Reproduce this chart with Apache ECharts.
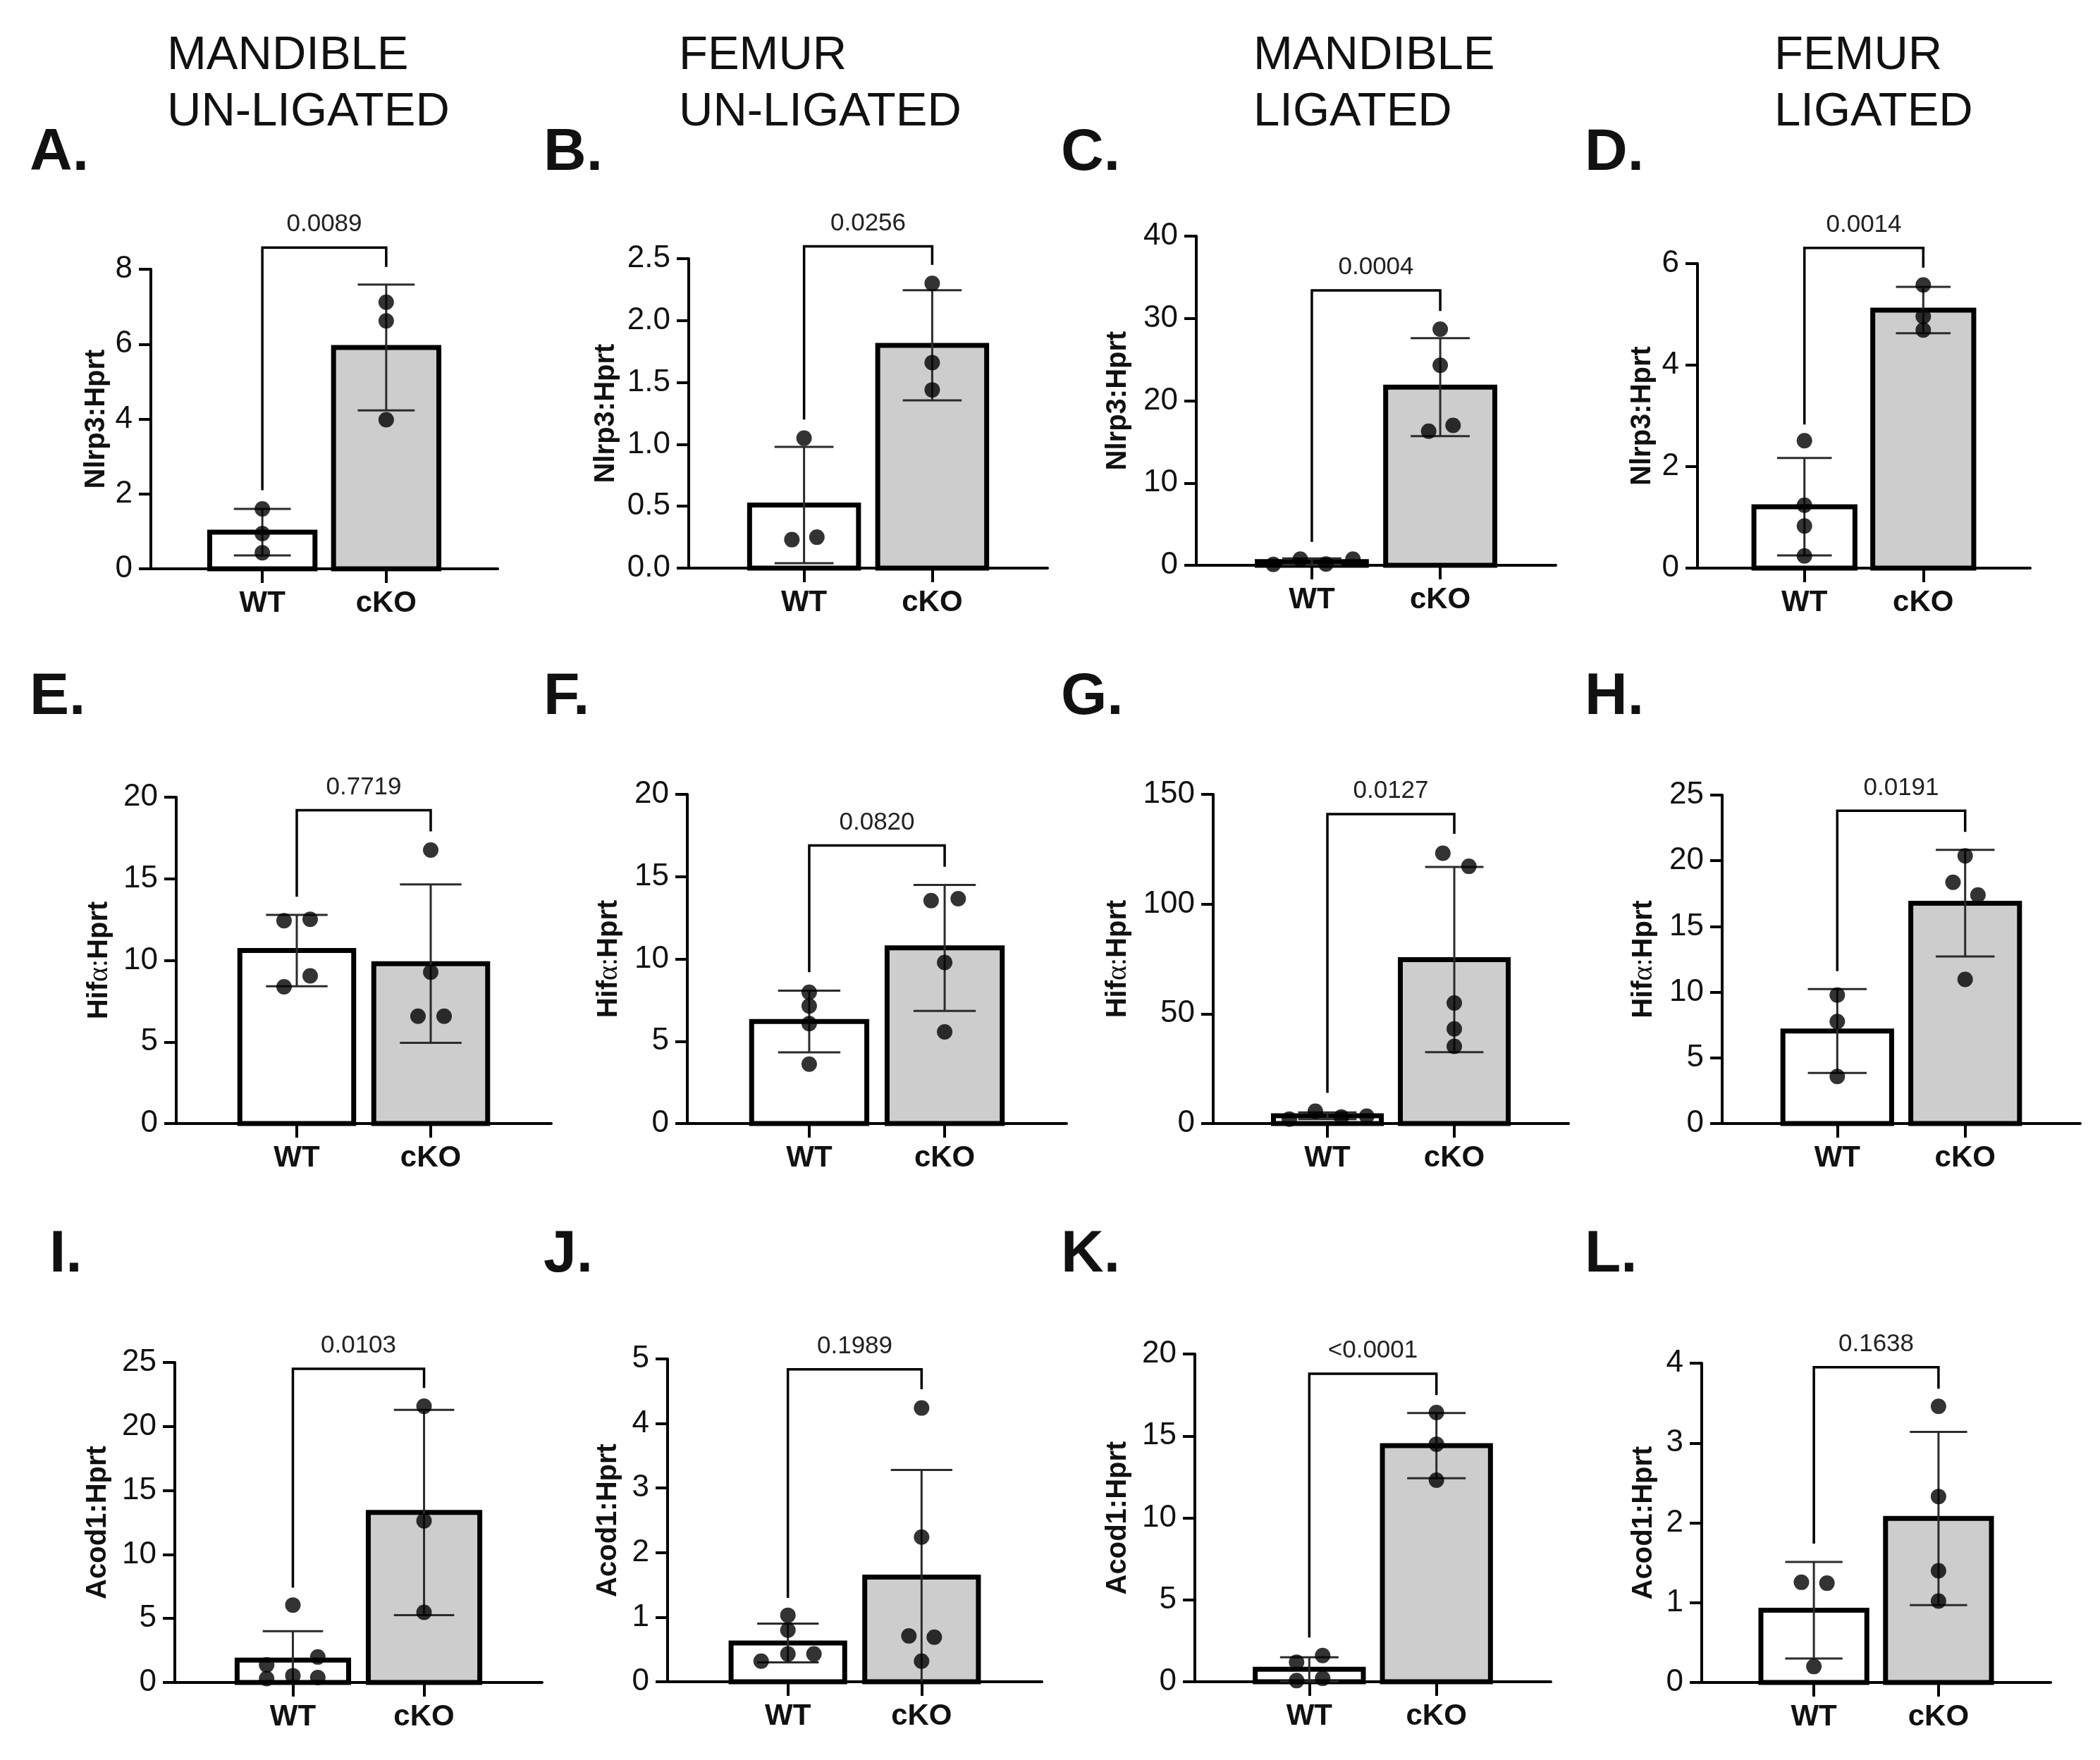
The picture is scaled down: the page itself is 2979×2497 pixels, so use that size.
<!DOCTYPE html>
<html>
<head>
<meta charset="utf-8">
<script src="https://cdn.jsdelivr.net/npm/echarts@6/dist/echarts.min.js"></script>
<style>
  html, body { margin: 0; padding: 0; background: #fff; }
  #chart { width: 2979px; height: 2497px; }
</style>
</head>
<body>
<div id="chart"></div>
<script>
// ---- data (panels A..L, row by row) ----
const groups = ['WT', 'cKO'];
const groupX = [1, 2];
const headers = ['MANDIBLE\nUN-LIGATED', 'FEMUR\nUN-LIGATED', 'MANDIBLE\nLIGATED', 'FEMUR\nLIGATED'];
const panelLetters = ['A.', 'B.', 'C.', 'D.', 'E.', 'F.', 'G.', 'H.', 'I.', 'J.', 'K.', 'L.'];
const yLabels = [
  'Nlrp3:Hprt', 'Nlrp3:Hprt', 'Nlrp3:Hprt', 'Nlrp3:Hprt',
  'Hif{a|α:}Hprt', 'Hif{a|α:}Hprt', 'Hif{a|α:}Hprt', 'Hif{a|α:}Hprt',
  'Acod1:Hprt', 'Acod1:Hprt', 'Acod1:Hprt', 'Acod1:Hprt'
];
const yMax = [8, 2.5, 40, 6, 20, 20, 150, 25, 25, 5, 20, 4];
const yStep = [2, 0.5, 10, 2, 5, 5, 50, 5, 5, 1, 5, 1];
const pValues = ['0.0089', '0.0256', '0.0004', '0.0014', '0.7719', '0.0820', '0.0127', '0.0191', '0.0103', '0.1989', '<0.0001', '0.1638'];

const wtMean = [0.98, 0.51, 0.45, 1.21, 10.6, 6.2, 3.5, 7.04, 1.75, 0.60, 0.76, 0.905];
const wtSD = [0.62, 0.47, 0.38, 0.96, 2.19, 1.87, 1.52, 3.19, 2.25, 0.30, 0.74, 0.605];
const koMean = [5.91, 1.80, 21.65, 5.085, 9.8, 10.67, 74.7, 16.77, 13.28, 1.62, 14.41, 2.055];
const koSD = [1.68, 0.445, 5.95, 0.455, 4.85, 3.83, 42.2, 4.06, 8.02, 1.66, 1.99, 1.085];

const wtPoints = [
  [1.60, 0.94, 0.43], [1.05, 0.23, 0.25], [0.10, 0.75, 0.15, 0.75], [2.51, 1.24, 0.83, 0.24],
  [12.43, 12.52, 9.05, 8.38], [7.98, 7.14, 6.07, 3.61], [2.0, 5.6, 3.0, 3.4], [9.78, 7.77, 3.58],
  [6.05, 1.99, 1.37, 0.30, 0.53, 0.39], [1.03, 0.80, 0.43, 0.32, 0.43], [1.19, 1.60, 0.07, 0.21], [1.255, 1.244, 0.20]
];
const wtJitter = [
  [0, 0, 0], [0, -0.095, 0.1], [-0.3, -0.09, 0.11, 0.32], [0, 0, 0, 0],
  [-0.095, 0.1, 0.1, -0.095], [0, 0, 0, 0], [-0.3, -0.095, 0.11, 0.31], [0, 0, 0],
  [0, 0.19, -0.2, -0.2, 0, 0.19], [0, 0, 0, -0.2, 0.195], [-0.1, 0.105, -0.1, 0.105], [-0.1, 0.105, 0]
];
const koPoints = [
  [7.12, 6.62, 3.98], [2.30, 1.66, 1.44], [28.7, 24.3, 16.3, 17.0], [5.58, 4.96, 4.69],
  [16.76, 9.28, 6.58, 6.58], [13.54, 13.66, 9.79, 5.57], [123.2, 117.2, 54.9, 43.1, 35.2], [20.37, 18.36, 17.39, 10.97],
  [21.58, 12.63, 5.48], [4.24, 2.24, 0.71, 0.69, 0.32], [16.43, 14.5, 12.3], [3.46, 2.33, 1.40, 1.02]
];
const koJitter = [
  [0, 0, 0], [0, 0, 0], [0, 0, -0.09, 0.1], [0, 0, 0],
  [0, 0, -0.095, 0.1], [-0.1, 0.1, 0, 0], [-0.09, 0.115, 0, 0, 0], [0, -0.095, 0.1, 0],
  [0, 0, 0], [0, 0, -0.095, 0.095, 0], [0, 0, 0], [0, 0, 0, 0]
];

// significance bracket: top of bracket, end of WT leg, end of cKO leg
const bracketTop = [8.58, 2.60, 33.4, 6.31, 19.2, 16.9, 141, 23.8, 24.5, 4.84, 18.8, 3.95];
const bracketWT = [2.10, 1.20, 2.85, 2.83, 13.9, 9.2, 14, 11.6, 7.4, 1.30, 2.7, 1.74];
const bracketKO = [8.06, 2.45, 30.9, 5.92, 17.9, 15.6, 132, 22.2, 23.0, 4.53, 17.5, 3.68];

// ---- layout (pixels) ----
const gridBoxes = [
  [214, 382, 492, 425], [977, 367, 509, 439], [1697, 335, 510, 467], [2408, 374, 472, 432],
  [250, 1131, 532, 463], [975, 1127, 538, 467], [1721, 1127, 504, 467], [2443, 1128, 508, 466],
  [248, 1933, 521, 454], [947, 1928, 531, 458], [1695, 1921, 505, 465], [2414, 1934, 495, 453]
];
const nameGaps = [57, 97, 91, 58, 89, 91, 115, 91, 89, 64, 89, 62];
const headerLefts = [237, 963, 1778, 2517];
const letterLefts = [42, 771, 1505, 2248, 42, 771, 1505, 2248, 70, 771, 1505, 2248];
const letterTops = [176, 948, 1739];

const FONT = "'Liberation Sans', Arial, Helvetica, sans-serif";
const BAR_W = 0.85;
const CAP_W = 0.46;

const chart = echarts.init(document.getElementById('chart'), null, { renderer: 'canvas' });

const grids = [], xAxes = [], yAxes = [], series = [], titles = [];

headers.forEach((h, c) => {
  titles.push({
    text: h, left: headerLefts[c], top: 40, padding: 0,
    textStyle: { fontFamily: FONT, fontSize: 67, fontWeight: 'normal', color: '#111', lineHeight: 80 }
  });
});

panelLetters.forEach((l, i) => {
  titles.push({
    text: l, left: letterLefts[i], top: letterTops[Math.floor(i / 4)], padding: 0,
    textStyle: { fontFamily: FONT, fontSize: 84, fontWeight: 'bold', color: '#111', lineHeight: 84 }
  });
});

function barItem(params, api) {
  const x = api.value(0), y = api.value(1);
  const tl = api.coord([x - BAR_W / 2, y]);
  const br = api.coord([x + BAR_W / 2, 0]);
  return {
    type: 'rect',
    shape: { x: tl[0], y: tl[1], width: br[0] - tl[0], height: br[1] - tl[1] },
    style: { fill: x === groupX[0] ? '#ffffff' : '#cdcdcd', stroke: '#000', lineWidth: 7 }
  };
}

function errItem(params, api) {
  const x = api.value(0), m = api.value(1), s = api.value(2);
  const lo = Math.max(0, m - s);
  const pHi = api.coord([x, m + s]);
  const pLo = api.coord([x, lo]);
  const hw = api.size([CAP_W / 2, 0])[0];
  const st = { stroke: '#2b2b2b', lineWidth: 3 };
  const children = [
    { type: 'line', shape: { x1: pHi[0], y1: pHi[1], x2: pLo[0], y2: pLo[1] }, style: st },
    { type: 'line', shape: { x1: pHi[0] - hw, y1: pHi[1], x2: pHi[0] + hw, y2: pHi[1] }, style: st }
  ];
  if (m - s > 0) {
    children.push({ type: 'line', shape: { x1: pLo[0] - hw, y1: pLo[1], x2: pLo[0] + hw, y2: pLo[1] }, style: st });
  }
  return { type: 'group', children };
}

function bracketItem(i) {
  return function (params, api) {
    const a = api.coord([groupX[0], api.value(0)]);
    const b = api.coord([groupX[0], api.value(1)]);
    const c = api.coord([groupX[1], api.value(1)]);
    const d = api.coord([groupX[1], api.value(2)]);
    return {
      type: 'group',
      children: [
        { type: 'polyline', shape: { points: [a, b, c, d] }, style: { stroke: '#000', lineWidth: 3.5, fill: null } },
        {
          type: 'text', x: (b[0] + c[0]) / 2, y: b[1] - 15,
          style: { text: pValues[i], fill: '#222', font: '35px ' + FONT, align: 'center', verticalAlign: 'bottom' }
        }
      ]
    };
  };
}

for (let i = 0; i < 12; i++) {
  const [left, top, width, height] = gridBoxes[i];
  grids.push({ left, top, width, height, containLabel: false });

  xAxes.push({
    gridIndex: i, type: 'value', min: 0.1, max: 2.9,
    axisLine: { show: true, onZero: false, lineStyle: { color: '#000', width: 4 } },
    axisTick: { show: true, customValues: groupX, length: 20, lineStyle: { color: '#000', width: 4 } },
    axisLabel: {
      customValues: groupX, formatter: v => groups[groupX.indexOf(Math.round(v))],
      fontFamily: FONT, fontSize: 42, fontWeight: 'bold', color: '#111', margin: 28
    },
    splitLine: { show: false }
  });

  yAxes.push({
    gridIndex: i, type: 'value', min: 0, max: yMax[i], interval: yStep[i],
    axisLine: { show: true, onZero: false, lineStyle: { color: '#000', width: 4 } },
    axisTick: { show: true, length: 17, lineStyle: { color: '#000', width: 4 } },
    axisLabel: {
      fontFamily: FONT, fontSize: 44, color: '#111', margin: 26,
      formatter: v => (yStep[i] < 1 ? v.toFixed(1) : String(v))
    },
    splitLine: { show: false },
    name: yLabels[i], nameLocation: 'middle', nameGap: nameGaps[i],
    nameTextStyle: {
      fontFamily: FONT, fontSize: 40, fontWeight: 'bold', color: '#111',
      rich: { a: { fontFamily: "'Liberation Serif', serif", fontSize: 40, fontWeight: 'normal', color: '#111' } }
    }
  });

  series.push({
    type: 'custom', xAxisIndex: i, yAxisIndex: i, z: 2,
    renderItem: barItem,
    data: [[groupX[0], wtMean[i]], [groupX[1], koMean[i]]]
  });
  series.push({
    type: 'custom', xAxisIndex: i, yAxisIndex: i, z: 3,
    renderItem: errItem,
    data: [[groupX[0], wtMean[i], wtSD[i]], [groupX[1], koMean[i], koSD[i]]]
  });
  const pts = wtPoints[i].map((v, k) => [groupX[0] + wtJitter[i][k], v])
    .concat(koPoints[i].map((v, k) => [groupX[1] + koJitter[i][k], v]));
  series.push({
    type: 'scatter', xAxisIndex: i, yAxisIndex: i, z: 4, clip: false,
    symbol: 'circle', symbolSize: 22,
    itemStyle: { color: '#000' },
    data: pts
  });
  series.push({
    type: 'custom', xAxisIndex: i, yAxisIndex: i, z: 5,
    renderItem: bracketItem(i),
    data: [[bracketWT[i], bracketTop[i], bracketKO[i]]]
  });
}

chart.setOption({
  backgroundColor: '#fff',
  animation: false,
  textStyle: { fontFamily: FONT },
  title: titles,
  grid: grids,
  xAxis: xAxes,
  yAxis: yAxes,
  series
});

window.addEventListener('resize', () => chart.resize());
</script>
</body>
</html>
